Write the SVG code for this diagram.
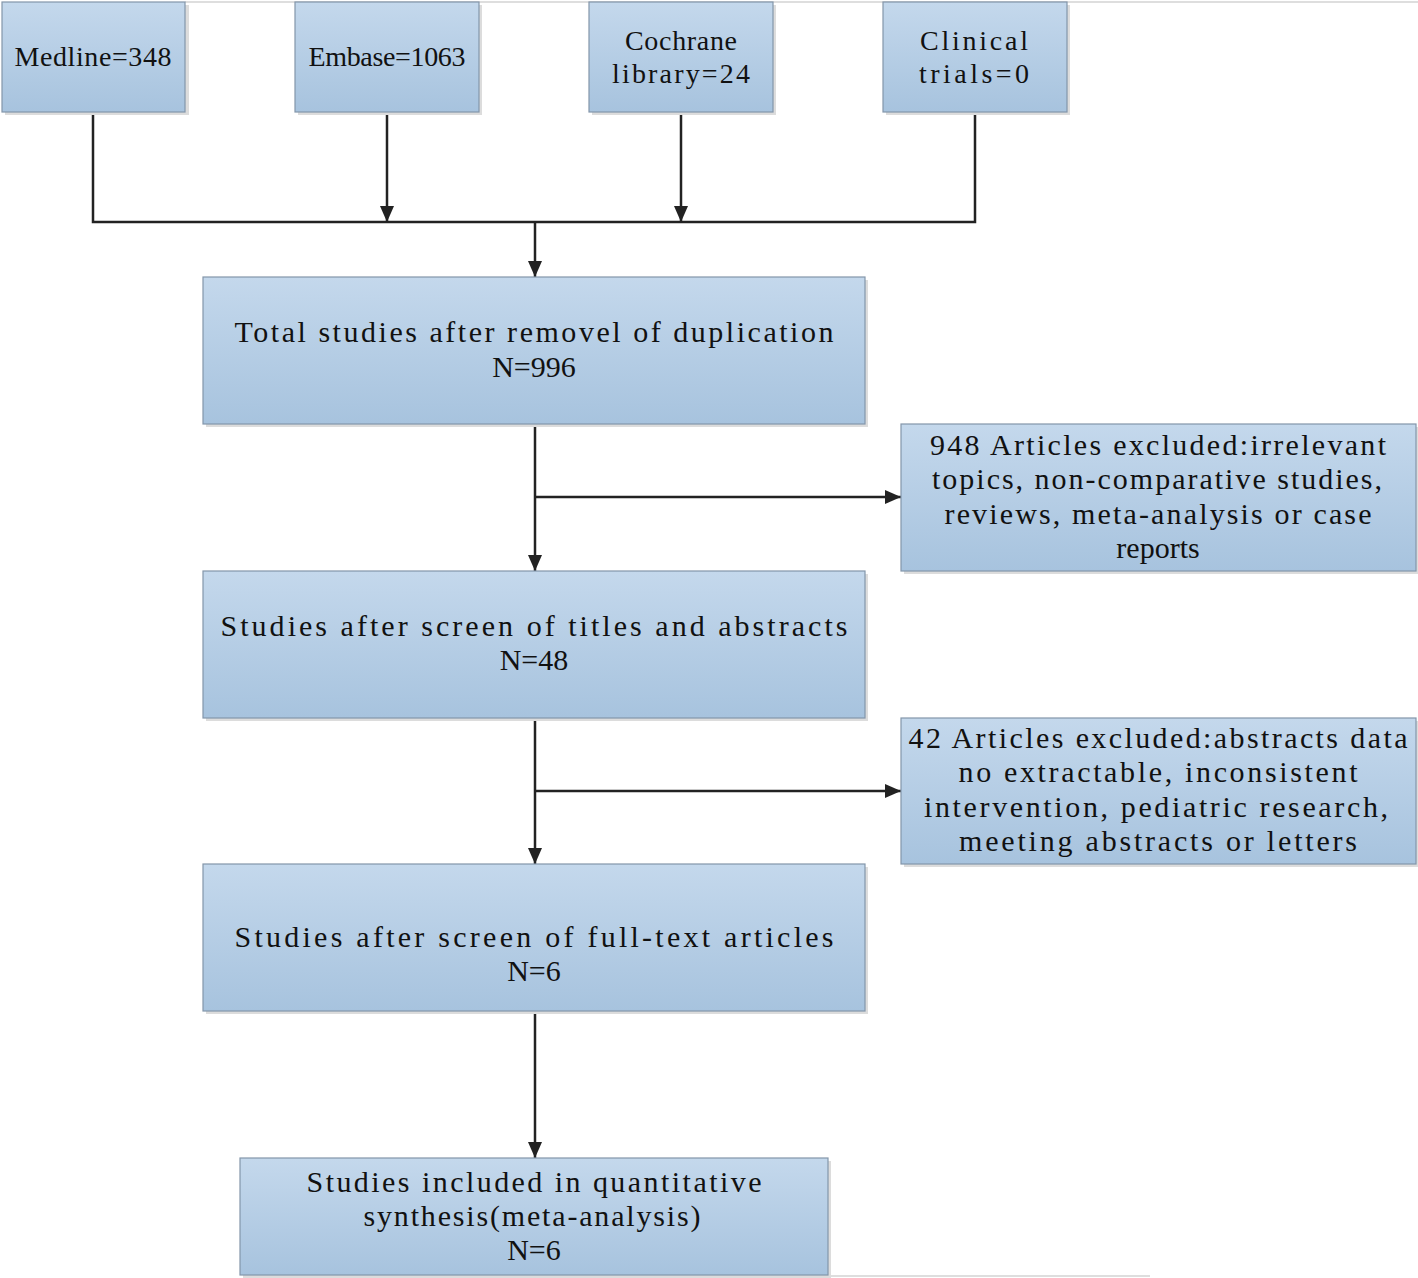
<svg xmlns="http://www.w3.org/2000/svg" width="1418" height="1278" viewBox="0 0 1418 1278">
<defs>
<linearGradient id="g" x1="0" y1="0" x2="0" y2="1">
<stop offset="0" stop-color="#c4d8ec"/>
<stop offset="1" stop-color="#a7c3de"/>
</linearGradient>
<marker id="arr" viewBox="0 0 16 14" refX="16" refY="7" markerWidth="16" markerHeight="14" markerUnits="userSpaceOnUse" orient="auto">
<path d="M0,0 L16,7 L0,14 Z" fill="#222"/>
</marker>
</defs>
<style>
.box{fill:url(#g);stroke:#8396aa;stroke-width:1.2}
.sh{fill:#dcdcdc}
.t{font-family:"Liberation Serif","Times New Roman",serif;font-size:30px;fill:#111;text-anchor:middle}
.ts{font-size:28px}
.c{fill:none;stroke:#222;stroke-width:2.5}
.faint{stroke:#dedede;stroke-width:2;fill:none}
</style>
<path class="faint" d="M185,2 H1418 M828,1276 H1150"/>
<g id="connectors">
<path class="c" d="M93,112 V222 H975 V112"/>
<path class="c" d="M387,112 V222" marker-end="url(#arr)"/>
<path class="c" d="M681,112 V222" marker-end="url(#arr)"/>
<path class="c" d="M535,222 V277" marker-end="url(#arr)"/>
<path class="c" d="M535,424 V571" marker-end="url(#arr)"/>
<path class="c" d="M535,497 H901" marker-end="url(#arr)"/>
<path class="c" d="M535,718 V864" marker-end="url(#arr)"/>
<path class="c" d="M535,791 H901" marker-end="url(#arr)"/>
<path class="c" d="M535,1011 V1158" marker-end="url(#arr)"/>
</g>
<g id="medline">
<rect class="sh" x="5" y="5" width="184" height="110"/>
<rect class="box" x="2" y="2" width="183" height="110"/>
<text class="t ts" x="93" y="66" textLength="157" lengthAdjust="spacing">Medline=348</text>
</g>
<g id="embase">
<rect class="sh" x="298" y="5" width="184" height="110"/>
<rect class="box" x="295" y="2" width="184" height="110"/>
<text class="t ts" x="387" y="66" textLength="157" lengthAdjust="spacing">Embase=1063</text>
</g>
<g id="cochrane">
<rect class="sh" x="592" y="5" width="184" height="110"/>
<rect class="box" x="589" y="2" width="184" height="110"/>
<text class="t ts" x="681" y="50" textLength="112" lengthAdjust="spacing">Cochrane</text>
<text class="t ts" x="681" y="83" textLength="138" lengthAdjust="spacing">library=24</text>
</g>
<g id="clinical">
<rect class="sh" x="886" y="5" width="184" height="110"/>
<rect class="box" x="883" y="2" width="184" height="110"/>
<text class="t ts" x="974" y="50" textLength="108" lengthAdjust="spacing">Clinical</text>
<text class="t ts" x="974" y="83" textLength="110" lengthAdjust="spacing">trials=0</text>
</g>
<g id="total">
<rect class="sh" x="206" y="280" width="662" height="147"/>
<rect class="box" x="203" y="277" width="662" height="147"/>
<text class="t" x="534" y="342" textLength="599" lengthAdjust="spacing">Total studies after removel of duplication</text>
<text class="t" x="534" y="377">N=996</text>
</g>
<g id="excluded1">
<rect class="sh" x="904" y="427" width="515" height="147"/>
<rect class="box" x="901" y="424" width="515" height="147"/>
<text class="t" x="1158" y="455" textLength="456" lengthAdjust="spacing">948 Articles excluded:irrelevant</text>
<text class="t" x="1157" y="489" textLength="450" lengthAdjust="spacing">topics, non-comparative studies,</text>
<text class="t" x="1158" y="524" textLength="427" lengthAdjust="spacing">reviews, meta-analysis or case</text>
<text class="t" x="1158" y="558">reports</text>
</g>
<g id="screen-titles">
<rect class="sh" x="206" y="574" width="662" height="147"/>
<rect class="box" x="203" y="571" width="662" height="147"/>
<text class="t" x="534" y="636" textLength="627" lengthAdjust="spacing">Studies after screen of titles and abstracts</text>
<text class="t" x="534" y="670">N=48</text>
</g>
<g id="excluded2">
<rect class="sh" x="904" y="721" width="515" height="146"/>
<rect class="box" x="901" y="718" width="515" height="146"/>
<text class="t" x="1158" y="748" textLength="499" lengthAdjust="spacing">42 Articles excluded:abstracts data</text>
<text class="t" x="1158" y="782" textLength="399" lengthAdjust="spacing">no extractable, inconsistent</text>
<text class="t" x="1156" y="817" textLength="464" lengthAdjust="spacing">intervention, pediatric research,</text>
<text class="t" x="1158" y="851" textLength="398" lengthAdjust="spacing">meeting abstracts or letters</text>
</g>
<g id="screen-fulltext">
<rect class="sh" x="206" y="867" width="662" height="147"/>
<rect class="box" x="203" y="864" width="662" height="147"/>
<text class="t" x="534" y="947" textLength="599" lengthAdjust="spacing">Studies after screen of full-text articles</text>
<text class="t" x="534" y="981">N=6</text>
</g>
<g id="included">
<rect class="sh" x="243" y="1161" width="588" height="117"/>
<rect class="box" x="240" y="1158" width="588" height="117"/>
<text class="t" x="534" y="1192" textLength="455" lengthAdjust="spacing">Studies included in quantitative</text>
<text class="t" x="532" y="1226" textLength="337" lengthAdjust="spacing">synthesis(meta-analysis)</text>
<text class="t" x="534" y="1260">N=6</text>
</g>
</svg>
